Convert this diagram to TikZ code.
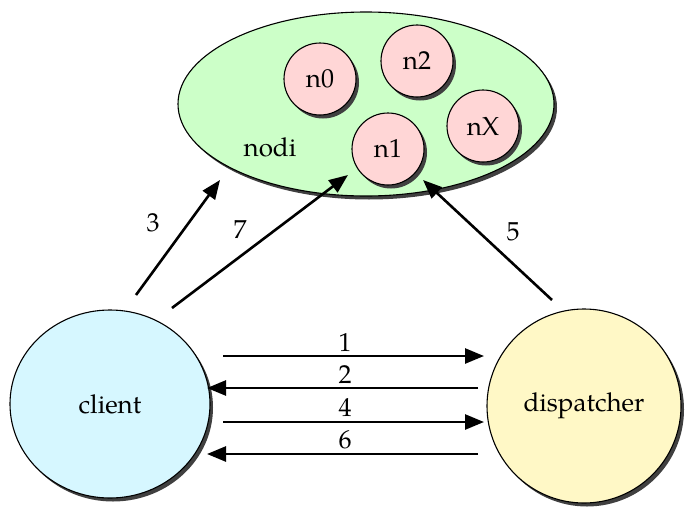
\documentclass[tikz,border=0pt]{standalone}
\usepackage{fontspec}
\setmainfont{texgyrepagella-regular.otf}
\usetikzlibrary{arrows.meta,shadows,shapes.geometric}
\definecolor{nodigreen}{RGB}{204,255,200}
\definecolor{nodepink}{RGB}{255,214,214}
\definecolor{clientcyan}{RGB}{214,247,255}
\definecolor{dispyellow}{RGB}{255,248,198}
\definecolor{shadowgray}{RGB}{64,64,64}
\tikzset{
  blob/.style={draw=black, line width=1.1pt, inner sep=0pt,
    drop shadow={shadow xshift=3pt, shadow yshift=-3.5pt, fill=shadowgray, opacity=1}},
  nodeball/.style={blob, circle, fill=nodepink, minimum size=72pt},
  msg/.style={line width=2.6pt, -{Triangle[length=19pt,width=15pt]}},
  lbl/.style={inner sep=0pt},
}
\begin{document}
\begin{tikzpicture}[x=1pt,y=-1pt,font=\fontsize{26}{30}\selectfont]
\useasboundingbox (0,0) rectangle (685,506);
% the group of nodes
\node[blob, ellipse, fill=nodigreen, minimum width=376pt, minimum height=184pt] (nodi) at (366,104) {};
\node[lbl] (noditxt) at (270,147) {nodi};
\node[nodeball] (n0) at (320,79) {n0};
\node[nodeball] (n2) at (417,61) {n2};
\node[nodeball] (n1) at (388,149) {n1};
\node[nodeball] (nX) at (483,126) {nX};
% client and dispatcher
\node[blob, ellipse, fill=clientcyan, minimum width=200pt, minimum height=188pt] (client) at (110,404) {client};
\node[blob, ellipse, fill=dispyellow, minimum width=194pt, minimum height=194pt] (disp) at (584,406) {dispatcher};
% anchor points of the connectors
\coordinate (c3) at (136,295);
\coordinate (t3) at (220,180);
\coordinate (c7) at (172,308);
\coordinate (t7) at (348,175);
\coordinate (d5) at (552,300);
\coordinate (t5) at (423,180);
\coordinate (a1) at (223,356); \coordinate (b1) at (484,356);
\coordinate (a2) at (478,388); \coordinate (b2) at (207,388);
\coordinate (a4) at (223,422); \coordinate (b4) at (484,422);
\coordinate (a6) at (478,454); \coordinate (b6) at (207,454);
% connectors
\draw[msg] (c3) -- (t3);
\draw[msg] (c7) -- (t7);
\draw[msg] (d5) -- (t5);
\draw[msg] (a1) -- (b1);
\draw[msg] (a2) -- (b2);
\draw[msg] (a4) -- (b4);
\draw[msg] (a6) -- (b6);
% labels
\node[lbl] (l3) at (153,223) {3};
\node[lbl] (l7) at (240,230) {7};
\node[lbl] (l5) at (513,232) {5};
\node[lbl] (l1) at (345,343) {1};
\node[lbl] (l2) at (345,375) {2};
\node[lbl] (l4) at (345,408) {4};
\node[lbl] (l6) at (345,440) {6};
\end{tikzpicture}
\end{document}
